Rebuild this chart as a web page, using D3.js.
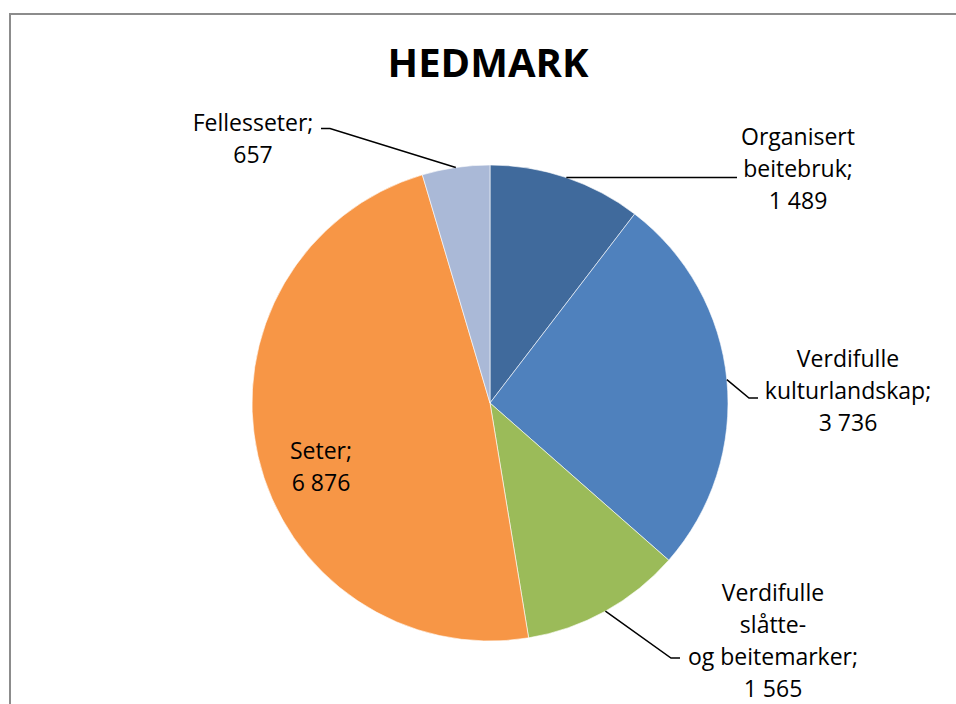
<!DOCTYPE html>
<html>
<head>
<meta charset="utf-8">
<script src="https://cdn.jsdelivr.net/npm/d3@7"></script>
<style>
  html, body { margin: 0; padding: 0; background: #fff; }
  svg { display: block; }
  text { font-family: "Open Sans", Lato, sans-serif; fill: #000; }
</style>
</head>
<body>
<div class="canvas"></div>
<script>
// data
const categories = ["Organisert beitebruk", "Verdifulle kulturlandskap", "Verdifulle slåtte- og beitemarker", "Seter", "Fellesseter"];
const values = [1489, 3736, 1565, 6876, 657];
// label lines as shown in the chart
const labelLines = [
  ["Organisert", "beitebruk;", "1 489"],
  ["Verdifulle", "kulturlandskap;", "3 736"],
  ["Verdifulle", "slåtte-", "og beitemarker;", "1 565"],
  ["Seter;", "6 876"],
  ["Fellesseter;", "657"],
];
const colors = ["#406a9c", "#4f81bd", "#9bbb59", "#f79646", "#aab9d7"];

// chartSet
const chartSet = { width: 956, height: 704, radius: 238 };
const center = { x: 490, y: 403 };
const lineGap = 32;

// label layout (x center, first baseline, leader elbow, leader end)
const labelLayout = [
  { x: 798, y: 145, elbow: null, endX: 737 },
  { x: 848, y: 366.5, elbow: [749, 398], endX: 758 },
  { x: 773, y: 600.5, elbow: [671, 658], endX: 680 },
  { x: 321, y: 459, elbow: null, endX: null },
  { x: 253, y: 131, elbow: [330, 128.5], endX: 321 },
];

const svg = d3
  .select(".canvas")
  .append("svg")
  .attr("width", chartSet.width)
  .attr("height", chartSet.height);

// chart border (runs off the right and bottom edges)
svg
  .append("rect")
  .attr("x", 10)
  .attr("y", 14)
  .attr("width", 1000)
  .attr("height", 800)
  .attr("fill", "none")
  .attr("stroke", "#8c8c8c")
  .attr("stroke-width", 2);

// title
svg
  .append("text")
  .attr("x", 488)
  .attr("y", 77)
  .attr("text-anchor", "middle")
  .attr("font-family", "Lato, sans-serif")
  .attr("font-weight", "bold")
  .attr("font-size", 40)
  .text("HEDMARK");

const g = svg
  .append("g")
  .attr("transform", `translate(${center.x}, ${center.y})`);

const pie = d3
  .pie()
  .sort(null)
  .value((d) => d.value);

const arc = d3.arc().outerRadius(chartSet.radius).innerRadius(0);

const data = categories.map((c, i) => ({ name: c, value: values[i], color: colors[i] }));
const arcs = pie(data);

g.selectAll("path")
  .data(arcs)
  .enter()
  .append("path")
  .attr("d", arc)
  .attr("fill", (d) => d.data.color)
  .attr("stroke", "#fff")
  .attr("stroke-width", 0.6);

// leader lines, starting at the middle of each slice edge
arcs.forEach((d, i) => {
  const lay = labelLayout[i];
  if (lay.endX === null) return;
  const mid = (d.startAngle + d.endAngle) / 2;
  const sx = center.x + chartSet.radius * Math.sin(mid);
  const sy = center.y - chartSet.radius * Math.cos(mid);
  const pts = [[sx, sy]];
  if (lay.elbow) pts.push(lay.elbow);
  const endY = lay.elbow ? lay.elbow[1] : sy;
  pts.push([lay.endX, endY]);
  svg
    .append("path")
    .attr("d", d3.line()(pts))
    .attr("fill", "none")
    .attr("stroke", "#000")
    .attr("stroke-width", 1.5);
});

// labels
labelLines.forEach((lines, i) => {
  const lay = labelLayout[i];
  const t = svg
    .append("text")
    .attr("text-anchor", "middle")
    .attr("font-size", 23);
  lines.forEach((s, j) => {
    t.append("tspan")
      .attr("x", lay.x)
      .attr("y", lay.y + j * lineGap)
      .text(s);
  });
});
</script>
</body>
</html>
